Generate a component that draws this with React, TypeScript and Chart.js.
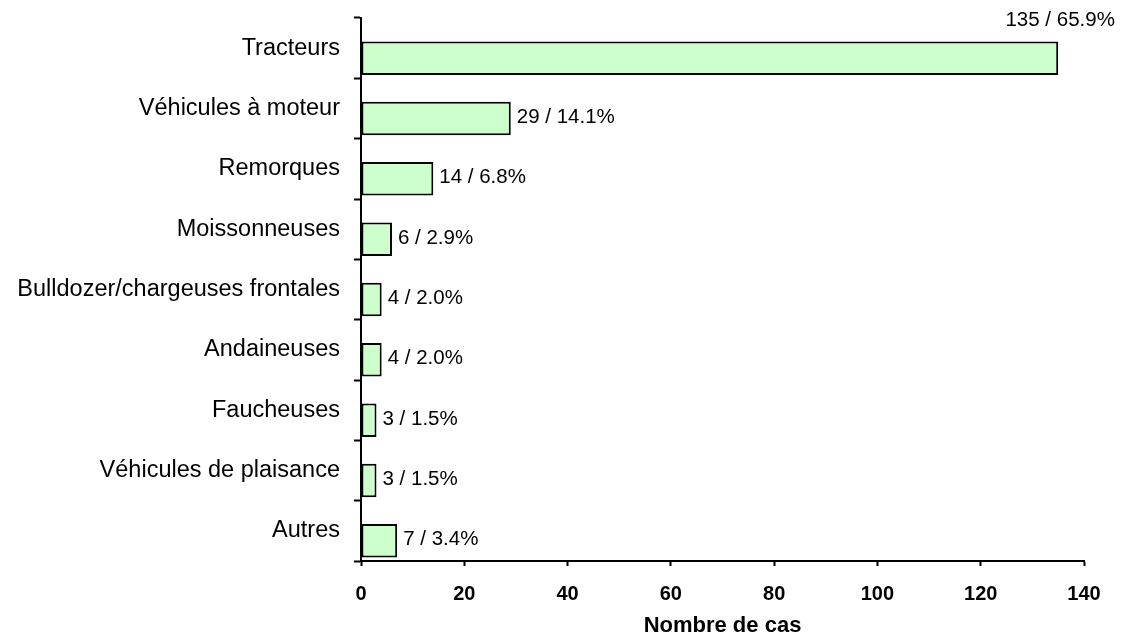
import React, { useEffect, useRef } from "react";
import { Chart, registerables } from "chart.js";

Chart.register(...registerables);

const categories = [
  "Tracteurs",
  "Véhicules à moteur",
  "Remorques",
  "Moissonneuses",
  "Bulldozer/chargeuses frontales",
  "Andaineuses",
  "Faucheuses",
  "Véhicules de plaisance",
  "Autres",
];
const caseCounts = [135, 29, 14, 6, 4, 4, 3, 3, 7];
const casePercents = ["65.9", "14.1", "6.8", "2.9", "2.0", "2.0", "1.5", "1.5", "3.4"];
const xTickMin = 0;
const xTickMax = 140;
const xTickStep = 20;
const xAxisTitle = "Nombre de cas";

const FONT = "'Liberation Sans', Arial, sans-serif";

const labelPlugin = {
  id: "barValueLabels",
  afterDatasetsDraw(chart: any) {
    const ctx = chart.ctx;
    const meta = chart.getDatasetMeta(1);
    ctx.save();
    ctx.font = `20.5px ${FONT}`;
    ctx.fillStyle = "#000";
    meta.data.forEach((bar: any, i: number) => {
      const text = `${caseCounts[i]} / ${casePercents[i]}%`;
      const w = ctx.measureText(text).width;
      const props = bar.getProps(["x", "y", "height"], true);
      if (props.x + 6 + w > chart.chartArea.right) {
        ctx.textAlign = "center";
        ctx.textBaseline = "middle";
        ctx.fillText(text, props.x + 2, props.y - props.height / 2 - 21);
      } else {
        ctx.textAlign = "left";
        ctx.textBaseline = "middle";
        ctx.fillText(text, props.x + 6, props.y - 1);
      }
    });
    ctx.restore();
  },
};

export default function App() {
  const canvasRef = useRef<HTMLCanvasElement | null>(null);

  useEffect(() => {
    if (!canvasRef.current) return;
    const chart = new Chart(canvasRef.current, {
      type: "bar",
      data: {
        labels: categories,
        datasets: [
          {
            label: "spacer",
            data: categories.map(() => null),
            backgroundColor: "rgba(0,0,0,0)",
          },
          {
            label: xAxisTitle,
            data: caseCounts,
            backgroundColor: "#CCFFCC",
            borderColor: "#000",
            borderWidth: 2,
            borderSkipped: false,
          },
        ],
      },
      options: {
        indexAxis: "y",
        animation: false,
        responsive: true,
        maintainAspectRatio: false,
        datasets: {
          bar: { categoryPercentage: 0.663, barPercentage: 1.675 },
        },
        layout: { padding: { top: 18, right: 38, left: 0, bottom: 0 } },
        plugins: {
          legend: { display: false },
          tooltip: { enabled: false },
        },
        scales: {
          x: {
            type: "linear",
            min: xTickMin,
            max: xTickMax,
            ticks: {
              stepSize: xTickStep,
              color: "#000",
              font: { family: FONT, size: 20, weight: "bold" },
              padding: 16,
              maxRotation: 0,
            },
            grid: {
              drawOnChartArea: false,
              drawTicks: true,
              tickLength: 5,
              tickWidth: 2,
              tickColor: "#000",
              color: "#000",
            },
            border: { display: true, color: "#000", width: 2 },
            title: {
              display: true,
              text: xAxisTitle,
              color: "#000",
              font: { family: FONT, size: 22, weight: "bold", lineHeight: 1 },
              padding: { top: 0, bottom: 3 },
            },
            afterFit(scale: any) {
              scale.height = 79;
              scale.paddingLeft = 0;
              scale.paddingRight = 0;
            },
          },
          y: {
            type: "category",
            offset: true,
            ticks: {
              color: "#000",
              font: { family: FONT, size: 23.5 },
              padding: 14,
            },
            grid: {
              offset: true,
              drawOnChartArea: false,
              drawTicks: true,
              tickLength: 7,
              tickWidth: 2,
              tickColor: "#000",
              color: "#000",
            },
            border: { display: true, color: "#000", width: 2 },
            afterFit(scale: any) {
              scale.width = 361;
              scale.paddingTop = 0;
              scale.paddingBottom = 0;
            },
          },
        },
      },
      plugins: [labelPlugin],
    } as any);
    return () => chart.destroy();
  }, []);

  return (
    <div style={{ position: "absolute", left: 0, top: 0, width: 1122, height: 640, background: "#fff" }}>
      <canvas ref={canvasRef} />
    </div>
  );
}
